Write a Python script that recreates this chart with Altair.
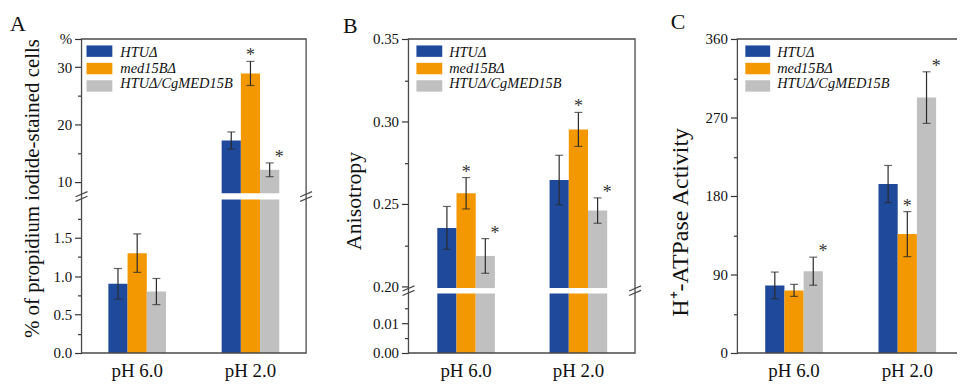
import altair as alt
import pandas as pd

FONT = "Liberation Serif"
W, H = 955, 376

groups = ["pH 6.0", "pH 2.0"]
strains = ["HTUΔ", "med15BΔ", "HTUΔ/CgMED15B"]
colors = ["#1f4a9c", "#f39800", "#c0c0c0"]

# Panel A: % of propidium iodide-stained cells
a_ph6 = [0.90, 1.30, 0.80]
a_ph6_sd = [0.20, 0.25, 0.17]
a_ph6_star = [0, 0, 0]
a_ph2 = [17.2, 28.9, 12.1]
a_ph2_sd = [1.5, 2.1, 1.2]
a_ph2_star = [0, 1, 1]

# Panel B: Anisotropy
b_ph6 = [0.2355, 0.2565, 0.2185]
b_ph6_sd = [0.013, 0.0095, 0.0105]
b_ph6_star = [0, 1, 1]
b_ph2 = [0.2645, 0.2952, 0.2460]
b_ph2_sd = [0.015, 0.0103, 0.0077]
b_ph2_star = [0, 1, 1]

# Panel C: H+-ATPase Activity
c_ph6 = [77.5, 71.8, 93.8]
c_ph6_sd = [15.3, 6.9, 16.1]
c_ph6_star = [0, 0, 1]
c_ph2 = [193.7, 136.3, 292.8]
c_ph2_sd = [21.3, 25.8, 29.6]
c_ph2_star = [0, 1, 1]


def panel_df(v6, s6, t6, v2, s2, t2):
    rows = []
    for g, vals, sds, sts in [(groups[0], v6, s6, t6), (groups[1], v2, s2, t2)]:
        for s, v, sd, st in zip(strains, vals, sds, sts):
            rows.append(dict(ph=g, strain=s, value=v, sd=sd, star=st))
    return pd.DataFrame(rows)


dfA = panel_df(a_ph6, a_ph6_sd, a_ph6_star, a_ph2, a_ph2_sd, a_ph2_star)
dfB = panel_df(b_ph6, b_ph6_sd, b_ph6_star, b_ph2, b_ph2_sd, b_ph2_star)
dfC = panel_df(c_ph6, c_ph6_sd, c_ph6_star, c_ph2, c_ph2_sd, c_ph2_star)

COL = alt.Color("strain:N", scale=alt.Scale(domain=strains, range=colors), legend=None)
XO = alt.XOffset("strain:N", scale=alt.Scale(domain=strains, paddingInner=0, paddingOuter=0))
ERR = "#2a2a2a"


def xenc(xr, pin, axis=None):
    return alt.X("ph:N", scale=alt.Scale(domain=groups, range=xr, paddingInner=pin, paddingOuter=0),
                 axis=axis, title=None)


def yscale(dom, rng):
    return alt.Scale(domain=dom, range=rng, nice=False, zero=False)


def section(df, xr, pin, dom, rng, xaxis=None):
    lo_d, hi_d = dom
    base = alt.Chart(df).transform_calculate(
        lo="datum.value - datum.sd", hi="datum.value + datum.sd",
        top=f"min(datum.value, {hi_d})")
    ys = yscale(dom, rng)
    bars = base.transform_filter(f"datum.value > {lo_d}").mark_bar().encode(
        x=xenc(xr, pin, xaxis), xOffset=XO,
        y=alt.Y("top:Q", scale=ys, axis=None), y2=alt.datum(lo_d), color=COL)
    inside = f"datum.value > {lo_d} && datum.value <= {hi_d}"
    rule = base.transform_filter(inside).mark_rule(color=ERR, strokeWidth=1.2).encode(
        x=xenc(xr, pin), xOffset=XO,
        y=alt.Y("lo:Q", scale=ys, axis=None), y2="hi:Q")
    caps = base.transform_filter(inside).transform_fold(["lo", "hi"], as_=["which", "yy"]).mark_tick(
        orient="horizontal", size=8, thickness=1.2, color=ERR).encode(
        x=xenc(xr, pin), xOffset=XO, y=alt.Y("yy:Q", scale=ys, axis=None))
    stars = base.transform_filter(inside + " && datum.star == 1").mark_text(
        text="*", font=FONT, fontSize=18, baseline="alphabetic", dy=0, color="#333").encode(
        x=xenc(xr, pin), xOffset=XO, y=alt.Y("hi:Q", scale=ys, axis=None))
    return [bars, rule, caps, stars]


def yaxis_layer(df, dom, rng, offset, values, minor=False, fmt=None, label_expr=None,
                title=None, title_x=None, title_y=None, title_size=21):
    kw = dict(orient="left", offset=offset, values=values, domain=False, grid=False,
              ticks=True, tickColor="#333", tickWidth=1.2,
              labelFont=FONT, labelFontSize=15, labelColor="#111", labelPadding=3)
    if minor:
        kw.update(tickSize=4, labels=False)
    else:
        kw.update(tickSize=7)
    if fmt:
        kw["format"] = fmt
    if label_expr:
        kw["labelExpr"] = label_expr
    if title:
        kw.update(title=title, titleX=title_x, titleY=title_y, titleAngle=270,
                  titleAlign="center", titleBaseline="alphabetic", titleFont=FONT,
                  titleFontSize=title_size, titleFontWeight="normal", titleColor="#111")
    yk = dict(scale=yscale(dom, rng), axis=alt.Axis(**kw))
    if not title:
        yk["title"] = None
    return alt.Chart(df).mark_point(opacity=0).encode(y=alt.Y("value:Q", **yk))


def xaxis():
    return alt.Axis(orient="bottom", offset=346 - H, ticks=False, tickSize=0, domain=False,
                    grid=False, labelAngle=0, labelFont=FONT, labelFontSize=19,
                    labelColor="#111", labelPadding=9)


def legend_layers(x0, x1, tx, yr):
    ldf = pd.DataFrame({"strain": strains})
    Y = alt.Y("strain:N", scale=alt.Scale(domain=strains, range=yr, paddingInner=0.343,
                                          paddingOuter=0), axis=None)
    sw = alt.Chart(ldf).mark_rect().encode(x=alt.value(x0), x2=alt.value(x1), y=Y, color=COL)
    tt = alt.Chart(ldf).mark_text(align="left", baseline="middle", font=FONT, fontSize=14.5,
                                  fontStyle="italic", color="#111").encode(
        x=alt.value(tx), y=Y, text="strain:N")
    return [sw, tt]


dummy = pd.DataFrame({"d": [0]})


def frame(x0, x1, y0=30, y1=346):
    return alt.Chart(dummy).mark_rect(fillOpacity=0, stroke="#4a4a4a", strokeWidth=1.3).encode(
        x=alt.value(x0), x2=alt.value(x1), y=alt.value(y0), y2=alt.value(y1))


def brk(xc, yc):
    out = []
    for d in (-2.3, 2.3):
        out.append(alt.Chart(dummy).mark_rule(color="#4a4a4a", strokeWidth=1.2).encode(
            x=alt.value(xc - 6), x2=alt.value(xc + 6),
            y=alt.value(yc + d + 2.6), y2=alt.value(yc + d - 2.6)))
    return out


def letter(t, x, y):
    return alt.Chart(dummy).mark_text(align="left", baseline="alphabetic", font=FONT,
                                      fontSize=22, color="#111").encode(
        x=alt.value(x), y=alt.value(y), text=alt.value(t))


layers = []

# ---------- Panel A ----------
AX, AP = [101, 273], 0.4912
A_lo_dom, A_lo_rng = [0, 2], [346, 191.4]
A_up_dom, A_up_rng = [8, 35], [185.3, 29.5]
layers += section(dfA, AX, AP, A_lo_dom, A_lo_rng, xaxis=xaxis())
layers += section(dfA, AX, AP, A_up_dom, A_up_rng)
layers.append(yaxis_layer(dfA, A_lo_dom, A_lo_rng, -74, [0, 0.5, 1.0, 1.5], fmt=".1f",
                          title="% of propidium iodide-stained cells", title_x=-43, title_y=180,
                          title_size=21))
layers.append(yaxis_layer(dfA, A_lo_dom, A_lo_rng, -74, [0.25, 0.75, 1.25, 1.75], minor=True))
layers.append(yaxis_layer(dfA, A_up_dom, A_up_rng, -74, [10, 20, 30, 35],
                          label_expr="datum.value == 35 ? '%' : datum.label"))
layers.append(yaxis_layer(dfA, A_up_dom, A_up_rng, -74, [15, 25], minor=True))
layers.append(frame(74, 300))
layers += brk(74, 188.5) + brk(300, 188.5)
layers += legend_layers(79, 105, 113, [36.5, 83])
layers.append(letter("A", 2, 22))

# ---------- Panel B ----------
BX, BP = [432, 603], 0.4867
B_lo_dom, B_lo_rng = [0, 0.02], [346, 286]
B_up_dom, B_up_rng = [0.199, 0.35], [280.7, 30]
layers += section(dfB, BX, BP, B_lo_dom, B_lo_rng, xaxis=xaxis())
layers += section(dfB, BX, BP, B_up_dom, B_up_rng)
layers.append(yaxis_layer(dfB, B_lo_dom, B_lo_rng, -403, [0, 0.01], fmt=".2f",
                          title="Anisotropy", title_x=-48, title_y=192.5, title_size=22))
layers.append(yaxis_layer(dfB, B_lo_dom, B_lo_rng, -403, [0.005, 0.015], minor=True))
layers.append(yaxis_layer(dfB, B_up_dom, B_up_rng, -403, [0.20, 0.25, 0.30, 0.35], fmt=".2f"))
layers.append(yaxis_layer(dfB, B_up_dom, B_up_rng, -403, [0.225, 0.275, 0.325], minor=True))
layers.append(frame(403, 631))
layers += brk(403, 283.3) + brk(631, 283.3)
layers += legend_layers(411, 437, 444, [36.5, 83])
layers.append(letter("B", 337, 24))

# ---------- Panel C ----------
CX, CP = [762, 934], 0.4912
C_dom, C_rng = [0, 360], [346, 30]
layers += section(dfC, CX, CP, C_dom, C_rng, xaxis=xaxis())
layers.append(yaxis_layer(dfC, C_dom, C_rng, -734, [0, 90, 180, 270, 360],
                          title="H⁺-ATPase Activity", title_x=-50, title_y=214, title_size=24))
layers.append(yaxis_layer(dfC, C_dom, C_rng, -734, [45, 135, 225, 315], minor=True))
layers.append(frame(734, 1200))
layers += legend_layers(742, 767, 774, [36.5, 83])
layers.append(letter("C", 667, 20))

chart = alt.layer(*layers).resolve_scale(
    x="independent", y="independent", xOffset="independent"
).properties(
    width=W, height=H, autosize=alt.AutoSizeParams(type="none"), padding=0
).configure_view(stroke=None)

chart.save("out.html", embed_options={"renderer": "svg", "actions": False})
